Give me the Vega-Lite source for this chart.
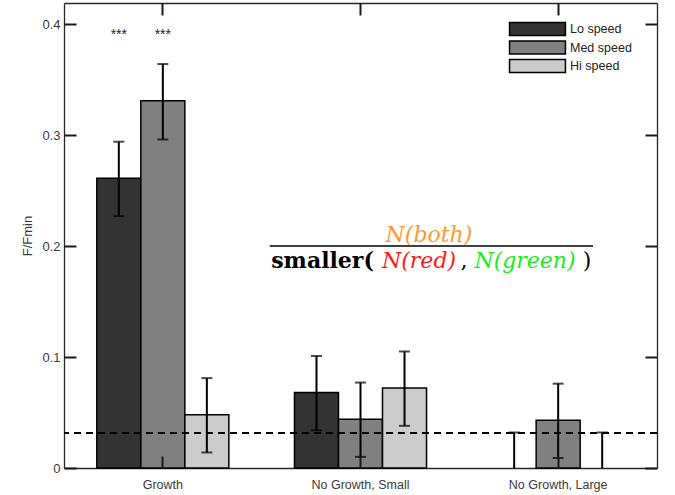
{
  "$schema": "https://vega.github.io/schema/vega-lite/v6.json",
  "autosize": "none",
  "padding": {"left": 64, "top": 3, "right": 18, "bottom": 27},
  "width": 593,
  "height": 465,
  "background": "white",
  "config": {
    "view": {"stroke": null},
    "font": "Liberation Sans",
    "axis": {"domainColor": "#262626", "domainWidth": 1.3, "tickColor": "#1a1a1a", "tickWidth": 2, "labelColor": "#3a3a3a", "titleColor": "#3a3a3a", "grid": false}
  },
  "layer": [
    {
      "data": {"values": [
        {"category": "Growth", "speed": "Lo speed", "value": 0.261, "lo": 0.227, "hi": 0.294},
        {"category": "Growth", "speed": "Med speed", "value": 0.331, "lo": 0.296, "hi": 0.364},
        {"category": "Growth", "speed": "Hi speed", "value": 0.048, "lo": 0.014, "hi": 0.081},
        {"category": "No Growth, Small", "speed": "Lo speed", "value": 0.068, "lo": 0.034, "hi": 0.101},
        {"category": "No Growth, Small", "speed": "Med speed", "value": 0.044, "lo": 0.010, "hi": 0.077},
        {"category": "No Growth, Small", "speed": "Hi speed", "value": 0.072, "lo": 0.038, "hi": 0.105},
        {"category": "No Growth, Large", "speed": "Lo speed", "value": 0.0, "lo": 0.0, "hi": 0.032},
        {"category": "No Growth, Large", "speed": "Med speed", "value": 0.043, "lo": 0.009, "hi": 0.076},
        {"category": "No Growth, Large", "speed": "Hi speed", "value": 0.0, "lo": 0.0, "hi": 0.032}
      ]},
      "resolve": {"axis": {"x": "independent", "y": "independent"}},
      "layer": [
        {
          "transform": [{"filter": "datum.value > 0"}],
          "mark": {"type": "bar", "stroke": "black", "strokeWidth": 1.5},
          "encoding": {
            "x": {"field": "category", "type": "nominal", "sort": ["Growth", "No Growth, Small", "No Growth, Large"],
                  "scale": {"domain": ["Growth", "No Growth, Small", "No Growth, Large"], "paddingInner": 0.332, "paddingOuter": 0.166},
                  "axis": {"orient": "bottom", "title": null, "labelAngle": 0, "labelFontSize": 12.5, "ticks": false, "labelPadding": 10, "domain": true}},
            "xOffset": {"field": "speed", "type": "nominal", "sort": ["Lo speed", "Med speed", "Hi speed"], "scale": {"domain": ["Lo speed", "Med speed", "Hi speed"], "paddingInner": 0, "paddingOuter": 0}},
            "y": {"field": "value", "type": "quantitative", "scale": {"domain": [0, 0.419], "nice": false, "zero": true},
                  "axis": {"orient": "left", "values": [0, 0.1, 0.2, 0.3, 0.4], "format": "~g", "labelFontSize": 13, "ticks": false, "labelPadding": 4, "domain": true, "title": "F/Fmin", "titleFontSize": 13, "titleFontWeight": "normal", "titleX": -30}},
            "color": {"field": "speed", "type": "nominal", "sort": ["Lo speed", "Med speed", "Hi speed"],
                      "scale": {"domain": ["Lo speed", "Med speed", "Hi speed"], "range": ["#333333", "#808080", "#cccccc"]},
                      "legend": {"title": null, "orient": "none", "legendX": 466, "legendY": 18.5, "symbolType": "M-4.3,-1H4.3V1H-4.3Z", "symbolSize": 169, "symbolStrokeColor": "black", "symbolStrokeWidth": 1.5, "symbolOpacity": 1, "labelFontSize": 12.5, "labelColor": "#222222", "labelOffset": 25, "rowPadding": -0.5}}
          }
        },
        {
          "mark": {"type": "rule", "color": "black", "strokeWidth": 2},
          "encoding": {
            "x": {"field": "category", "type": "nominal", "sort": ["Growth", "No Growth, Small", "No Growth, Large"], "axis": null},
            "xOffset": {"field": "speed", "type": "nominal", "sort": ["Lo speed", "Med speed", "Hi speed"]},
            "y": {"field": "lo", "type": "quantitative", "axis": null},
            "y2": {"field": "hi"}
          }
        },
        {
          "mark": {"type": "tick", "orient": "horizontal", "color": "black", "size": 11, "thickness": 2},
          "encoding": {
            "x": {"field": "category", "type": "nominal", "sort": ["Growth", "No Growth, Small", "No Growth, Large"],
                  "axis": {"orient": "bottom", "offset": -465, "title": null, "labels": false, "ticks": false, "domain": true}},
            "xOffset": {"field": "speed", "type": "nominal", "sort": ["Lo speed", "Med speed", "Hi speed"]},
            "y": {"field": "hi", "type": "quantitative",
                  "axis": {"orient": "left", "offset": -593, "values": [0, 0.1, 0.2, 0.3, 0.4], "labels": false, "title": null, "ticks": true, "tickSize": 12, "domain": true, "zindex": 2}}
          }
        },
        {
          "transform": [{"filter": "datum.lo > 0"}],
          "mark": {"type": "tick", "orient": "horizontal", "color": "black", "size": 11, "thickness": 2},
          "encoding": {
            "x": {"field": "category", "type": "nominal", "sort": ["Growth", "No Growth, Small", "No Growth, Large"],
                  "axis": {"orient": "top", "title": null, "labels": false, "ticks": true, "tickSize": -12, "domain": false, "bandPosition": 0.5, "zindex": 2}},
            "xOffset": {"field": "speed", "type": "nominal", "sort": ["Lo speed", "Med speed", "Hi speed"]},
            "y": {"field": "lo", "type": "quantitative",
                  "axis": {"orient": "left", "values": [0, 0.1, 0.2, 0.3, 0.4], "labels": false, "title": null, "ticks": true, "tickSize": -12, "domain": false, "zindex": 2}}
          }
        },
        {
          "transform": [{"filter": "datum.category == 'Growth' && datum.speed != 'Hi speed'"}],
          "mark": {"type": "text", "text": "***", "fontSize": 14, "color": "#222222", "baseline": "alphabetic", "align": "center"},
          "encoding": {
            "x": {"field": "category", "type": "nominal", "sort": ["Growth", "No Growth, Small", "No Growth, Large"],
                  "axis": {"orient": "bottom", "title": null, "labels": false, "ticks": true, "tickSize": -12, "domain": false, "bandPosition": 0.5, "zindex": 2}},
            "xOffset": {"field": "speed", "type": "nominal", "sort": ["Lo speed", "Med speed", "Hi speed"]},
            "y": {"datum": 0.387, "type": "quantitative", "axis": null}
          }
        },
        {
          "mark": {"type": "rule", "color": "black", "strokeWidth": 1.5, "strokeDash": [7, 5]},
          "encoding": {"y": {"datum": 0.0318, "type": "quantitative", "axis": null}}
        }
      ]
    },
    {
      "data": {"values": [{}]},
      "layer": [
        {
          "mark": {"type": "rule", "color": "black", "strokeWidth": 1.5},
          "encoding": {
            "x": {"datum": 0.347, "type": "quantitative", "scale": {"domain": [0, 1], "nice": false, "zero": false}, "axis": null},
            "x2": {"datum": 0.892},
            "y": {"datum": 0.2, "type": "quantitative", "axis": null}
          }
        },
        {
          "mark": {"type": "text", "text": "N(both)", "font": "DejaVu Serif", "fontStyle": "italic", "fontSize": 22, "color": "#ff9a2e", "align": "center", "baseline": "alphabetic"},
          "encoding": {"x": {"datum": 0.6155, "type": "quantitative", "axis": null}, "y": {"datum": 0.2039, "type": "quantitative", "axis": null}}
        },
        {
          "mark": {"type": "text", "text": "smaller(", "font": "DejaVu Serif", "fontWeight": "bold", "fontSize": 22, "color": "black", "align": "center", "baseline": "alphabetic"},
          "encoding": {"x": {"datum": 0.436, "type": "quantitative", "axis": null}, "y": {"datum": 0.1802, "type": "quantitative", "axis": null}}
        },
        {
          "mark": {"type": "text", "text": "N(red)", "font": "DejaVu Serif", "fontStyle": "italic", "fontSize": 22, "color": "#ff1a1a", "align": "center", "baseline": "alphabetic"},
          "encoding": {"x": {"datum": 0.5987, "type": "quantitative", "axis": null}, "y": {"datum": 0.1802, "type": "quantitative", "axis": null}}
        },
        {
          "mark": {"type": "text", "text": ",", "font": "DejaVu Serif", "fontSize": 22, "color": "black", "align": "center", "baseline": "alphabetic"},
          "encoding": {"x": {"datum": 0.6745, "type": "quantitative", "axis": null}, "y": {"datum": 0.1802, "type": "quantitative", "axis": null}}
        },
        {
          "mark": {"type": "text", "text": "N(green)", "font": "DejaVu Serif", "fontStyle": "italic", "fontSize": 22, "color": "#1aee1a", "align": "center", "baseline": "alphabetic"},
          "encoding": {"x": {"datum": 0.7774, "type": "quantitative", "axis": null}, "y": {"datum": 0.1802, "type": "quantitative", "axis": null}}
        },
        {
          "mark": {"type": "text", "text": ")", "font": "DejaVu Serif", "fontSize": 22, "color": "black", "align": "center", "baseline": "alphabetic"},
          "encoding": {"x": {"datum": 0.882, "type": "quantitative", "axis": null}, "y": {"datum": 0.1802, "type": "quantitative", "axis": null}}
        }
      ]
    }
  ],
  "resolve": {"scale": {"x": "independent"}, "axis": {"x": "independent"}}
}
